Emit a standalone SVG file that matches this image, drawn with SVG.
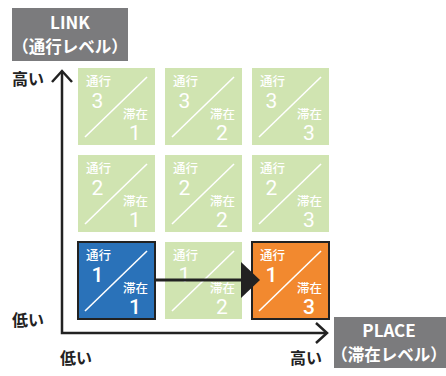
<svg xmlns="http://www.w3.org/2000/svg" width="446" height="376" viewBox="0 0 446 376">
  <defs>
    <style>
      .jp { font-family: "Noto Sans CJK JP", "Noto Sans", sans-serif; }
      .cell { fill: #d0e4b1; }
      .cur { stroke: #222; stroke-width: 2; }
      .slash { stroke: #fff; stroke-width: 1.6; }
      .sm { font-size: 12.5px; fill: #fff; font-weight: 500; }
      .num { font-size: 21px; fill: #fff; font-family: Roboto, "Noto Sans", sans-serif; text-anchor: middle; }
      .bold { font-weight: 500; }
      .axis { fill: none; stroke: #222; stroke-width: 2.5; }
      .axlbl { font-size: 16px; font-weight: 700; fill: #222; }
      .tag { fill: #7b7b7d; }
      .tagtxt { fill: #fff; font-weight: 700; text-anchor: middle; }
    </style>
    <!-- diagonal divider shared by every cell -->
    <g id="marks">
      <line class="slash" x1="7" y1="69" x2="69" y2="9"/>
    </g>
  </defs>

  <!-- axis title boxes -->
  <g id="link-title">
    <rect class="tag" x="12" y="8" width="116" height="53"/>
    <text class="jp tagtxt" x="70" y="29" font-size="17">LINK</text>
    <text class="jp tagtxt" x="70" y="53" font-size="16.5">（通行レベル）</text>
  </g>
  <g id="place-title">
    <rect class="tag" x="334" y="317" width="112" height="51"/>
    <text class="jp tagtxt" x="389" y="337" font-size="17">PLACE</text>
    <text class="jp tagtxt" x="389" y="361" font-size="16.5">（滞在レベル）</text>
  </g>

  <!-- axes -->
  <g id="axes">
    <polyline class="axis" points="62,72 62,333 326,333"/>
    <polyline class="axis" points="52,82 62,71 72,82"/>
    <polyline class="axis" points="316,323 327,333 316,343"/>
    <text class="jp axlbl" x="12" y="85">高い</text>
    <text class="jp axlbl" x="12" y="326">低い</text>
    <text class="jp axlbl" x="60" y="364">低い</text>
    <text class="jp axlbl" x="290" y="364">高い</text>
  </g>

  <!-- grid cells: 通行 level (rows) x 滞在 level (columns) -->
  <g id="cell-3-1" transform="translate(78,68)">
    <rect class="cell" width="77" height="77"/><use href="#marks"/>
    <text class="jp sm" x="8" y="18">通行</text><text class="num" x="19.5" y="40">3</text>
    <text class="jp sm" x="45" y="50.5">滞在</text><text class="num" x="57" y="72">1</text>
  </g>
  <g id="cell-3-2" transform="translate(165,68)">
    <rect class="cell" width="77" height="77"/><use href="#marks"/>
    <text class="jp sm" x="8" y="18">通行</text><text class="num" x="19.5" y="40">3</text>
    <text class="jp sm" x="45" y="50.5">滞在</text><text class="num" x="57" y="72">2</text>
  </g>
  <g id="cell-3-3" transform="translate(252,68)">
    <rect class="cell" width="77" height="77"/><use href="#marks"/>
    <text class="jp sm" x="8" y="18">通行</text><text class="num" x="19.5" y="40">3</text>
    <text class="jp sm" x="45" y="50.5">滞在</text><text class="num" x="57" y="72">3</text>
  </g>

  <g id="cell-2-1" transform="translate(78,155)">
    <rect class="cell" width="77" height="77"/><use href="#marks"/>
    <text class="jp sm" x="8" y="18">通行</text><text class="num" x="19.5" y="40">2</text>
    <text class="jp sm" x="45" y="50.5">滞在</text><text class="num" x="57" y="72">1</text>
  </g>
  <g id="cell-2-2" transform="translate(165,155)">
    <rect class="cell" width="77" height="77"/><use href="#marks"/>
    <text class="jp sm" x="8" y="18">通行</text><text class="num" x="19.5" y="40">2</text>
    <text class="jp sm" x="45" y="50.5">滞在</text><text class="num" x="57" y="72">2</text>
  </g>
  <g id="cell-2-3" transform="translate(252,155)">
    <rect class="cell" width="77" height="77"/><use href="#marks"/>
    <text class="jp sm" x="8" y="18">通行</text><text class="num" x="19.5" y="40">2</text>
    <text class="jp sm" x="45" y="50.5">滞在</text><text class="num" x="57" y="72">3</text>
  </g>

  <g id="cell-1-1" transform="translate(78,242)">
    <rect class="cur" fill="#2a72b9" width="77" height="77"/><use href="#marks"/>
    <text class="jp sm" x="8" y="18">通行</text><text class="num bold" x="19.5" y="40">1</text>
    <text class="jp sm" x="45" y="50.5">滞在</text><text class="num bold" x="57" y="72">1</text>
  </g>
  <g id="cell-1-2" transform="translate(165,242)">
    <rect class="cell" width="77" height="77"/><use href="#marks"/>
    <text class="jp sm" x="8" y="18">通行</text><text class="num" x="19.5" y="40">1</text>
    <text class="jp sm" x="45" y="50.5">滞在</text><text class="num" x="57" y="72">2</text>
  </g>
  <g id="cell-1-3" transform="translate(252,242)">
    <rect class="cur" fill="#f2892f" width="77" height="77"/><use href="#marks"/>
    <text class="jp sm" x="8" y="18">通行</text><text class="num bold" x="19.5" y="40">1</text>
    <text class="jp sm" x="45" y="50.5">滞在</text><text class="num bold" x="57" y="72">3</text>
  </g>

  <!-- shift from current state to target state -->
  <g id="connectors">
    <line x1="155" y1="280" x2="243" y2="280" stroke="#222" stroke-width="3"/>
    <polygon points="241,262 260,280 241,298" fill="#222"/>
  </g>
</svg>
